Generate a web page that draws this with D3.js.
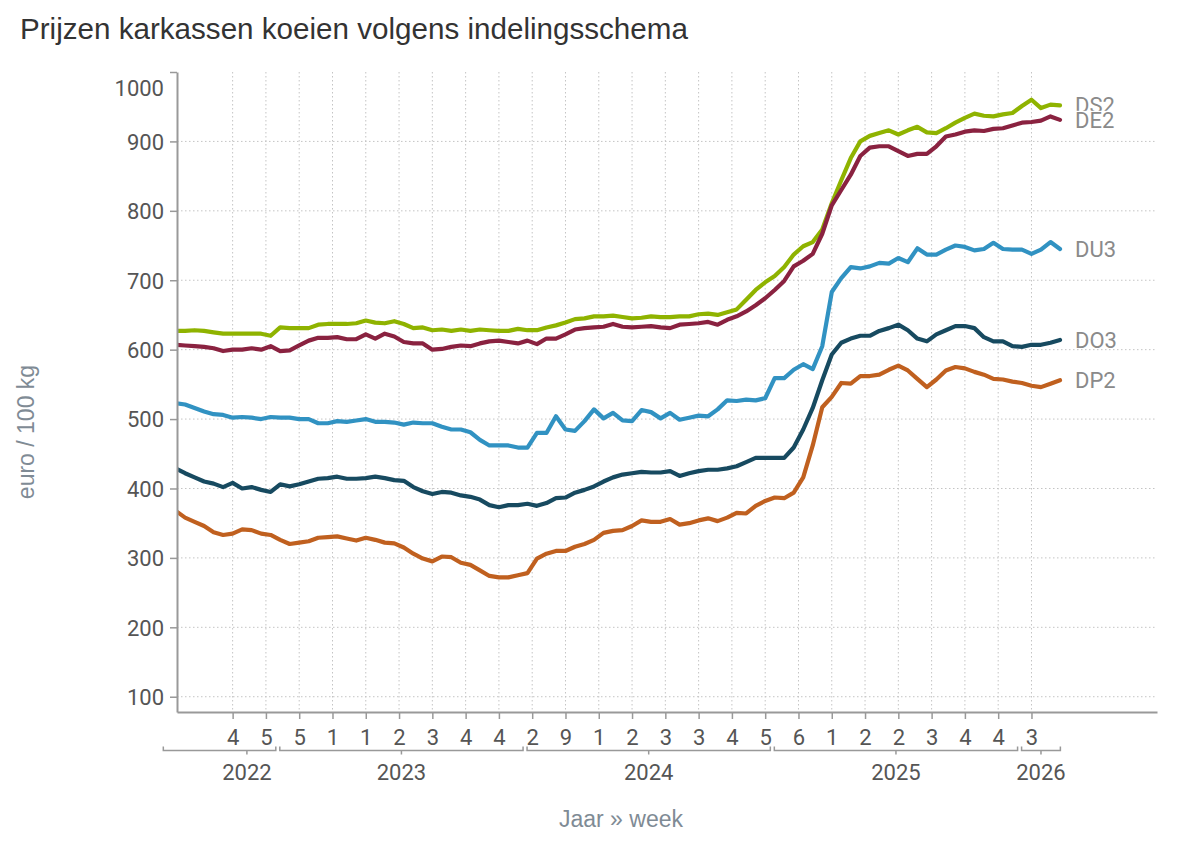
<!DOCTYPE html>
<html><head><meta charset="utf-8">
<script src="https://cdn.jsdelivr.net/npm/d3@7/dist/d3.min.js"></script>
<style>body{margin:0;background:#fff} svg{display:block}</style>
</head><body><svg id="chart" width="1200" height="855"></svg>
<script>
// ---- data (week index 0 = 2022 week 31, sampled every 2 weeks) ----
const weekIdx = d3.range(0, 188, 2);
const seriesNames = ["DS2", "DE2", "DU3", "DO3", "DP2"];
const seriesColors = ["#8fb300", "#8a2240", "#3192c2", "#174a60", "#c0601f"];

const DS2 = [627,627,628,627,625,623,623,623,623,623,620,632,631,631,631,636,637,637,637,638,642,639,638,641,
  637,631,632,628,629,627,629,627,629,628,627,627,630,628,628,632,635,639,644,645,648,648,649,
  647,645,646,648,647,647,648,648,651,652,650,654,658,672,686,697,706,719,737,749,755,773,811,
  844,876,900,908,912,916,910,916,921,913,912,919,927,934,940,937,936,939,941,951,960,948,953,952];
const DE2 = [607,606,605,604,602,598,600,600,602,600,605,598,599,606,613,617,617,618,615,615,622,616,623,619,
  611,609,609,600,601,604,606,605,609,612,613,611,609,613,608,616,616,622,629,631,632,633,637,
  633,632,633,634,632,631,636,637,638,640,636,643,648,655,664,674,686,699,720,728,738,767,808,
  830,852,879,891,893,893,886,879,882,882,893,907,910,914,916,915,918,919,923,927,928,930,936,931];
const DU3 = [523,521,516,511,507,506,502,503,502,500,503,502,502,500,500,494,494,497,496,498,500,496,496,495,
  492,495,494,494,489,485,485,481,470,462,462,462,459,459,480,480,504,485,483,497,514,501,509,
  498,497,513,510,501,509,499,502,505,504,514,527,526,528,527,530,559,559,571,579,572,605,683,
  703,719,717,720,725,724,732,726,746,737,737,744,750,748,743,745,754,745,744,744,738,744,755,745];
const DO3 = [429,422,416,410,407,402,408,400,402,398,395,406,403,406,410,414,415,417,414,414,415,417,415,412,
  411,402,396,392,395,394,390,388,384,376,373,376,376,378,375,379,386,387,394,398,403,410,416,
  420,422,424,423,423,425,418,422,425,427,427,429,432,438,444,444,444,444,459,485,516,556,593,
  610,616,620,620,627,631,636,628,616,612,622,628,634,634,631,618,612,612,605,604,607,607,610,614];
const DP2 = [368,358,352,346,337,333,335,341,340,335,333,326,320,322,324,329,330,331,328,325,329,326,322,321,
  315,306,299,295,302,301,293,290,282,274,272,272,275,278,299,306,310,310,316,320,326,336,339,
  340,346,354,352,352,356,348,350,354,357,353,358,365,364,375,382,387,386,394,416,462,517,532,
  552,551,562,562,564,571,577,570,558,546,557,570,575,573,568,564,558,557,554,552,548,546,551,556];
const seriesValues = [DS2, DE2, DU3, DO3, DP2];

const yTicks = [100, 200, 300, 400, 500, 600, 700, 800, 900, 1000];
const xTickWeeks = d3.range(12, 181, 7);
const xTickLabels = ["4","5","5","1","1","2","3","4","4","2","9","1","2","3","3","4","5","6","1","2","2","3","4","4","3"];
const years = ["2022", "2023", "2024", "2025", "2026"];
const yearStart = [-3, 21.5, 73.5, 125.5, 177.5];
const yearEnd = [21.5, 73.5, 125.5, 177.5, 186.5];
const yearLabelWeek = [15, null, null, null, null];

// ---- layout ----
const L = 177, R = 1157, T = 72, B = 712;
const svg = d3.select("#chart");
const x = d3.scaleLinear().domain([0.3, 206.4]).range([L, R]);
const y = d3.scaleLinear().domain([78, 1000]).range([B, T]);
const tickFont = "Roboto, 'Noto Sans', sans-serif";
const labelFont = "'Liberation Sans', Arial, sans-serif";

svg.append("text").attr("x", 20).attr("y", 39)
  .attr("font-family", labelFont).attr("font-size", 29.6).attr("fill", "#333")
  .text("Prijzen karkassen koeien volgens indelingsschema");

// gridlines
const grid = svg.append("g").attr("stroke", "#c4c4c4").attr("stroke-width", 1).attr("stroke-dasharray", "1.5,2.5");
grid.selectAll("line.h").data(yTicks.filter(v => v < 1000)).join("line")
  .attr("x1", L).attr("x2", R).attr("y1", d => y(d)).attr("y2", d => y(d));
grid.selectAll("line.v").data(xTickWeeks).join("line").attr("class", "v")
  .attr("x1", d => x(d)).attr("x2", d => x(d)).attr("y1", T).attr("y2", B);

// lines
svg.append("clipPath").attr("id", "clip").append("rect")
  .attr("x", L).attr("y", 0).attr("width", 1200 - L).attr("height", B);
const line = d3.line().x((d, i) => x(weekIdx[i])).y(d => y(d)).curve(d3.curveLinear);
const lg = svg.append("g").attr("clip-path", "url(#clip)");
seriesNames.forEach((name, s) => {
  lg.append("path").datum(seriesValues[s])
    .attr("fill", "none").attr("stroke", seriesColors[s]).attr("stroke-width", 4.2)
    .attr("stroke-linejoin", "round").attr("stroke-linecap", "round")
    .attr("d", line);
});

// series end labels
seriesNames.forEach((name, s) => {
  const vals = seriesValues[s];
  const g = svg.append("g");
  const t = g.append("text").attr("x", 1075).attr("y", y(vals[vals.length - 1]))
    .attr("dy", "0.36em").attr("font-family", tickFont).attr("font-size", 22)
    .attr("fill", "#8a8a8a").text(name);
  if (name === "DE2") {
    const bb = t.node().getBBox();
    g.insert("rect", "text").attr("x", bb.x - 1).attr("y", bb.y + 3).attr("width", bb.width + 2)
      .attr("height", bb.height - 3).attr("fill", "#fff");
  }
});

// y axis
const yAxis = svg.append("g").attr("transform", `translate(${L},0)`)
  .call(d3.axisLeft(y).tickValues(yTicks).tickFormat(d3.format("d")).tickSize(7).tickSizeOuter(0).tickPadding(6));
yAxis.select(".domain").attr("stroke", "#999").attr("stroke-width", 2);
yAxis.selectAll(".tick line").attr("stroke", "#999").attr("stroke-width", 1.5);
yAxis.selectAll(".tick text").attr("font-family", tickFont).attr("font-size", 22).attr("fill", "#555")
  .attr("dy", "0.36em")
  .attr("y", d => d === 1000 ? 16 : 0);

// x axis
const xAxis = svg.append("g").attr("transform", `translate(0,${B})`)
  .call(d3.axisBottom(x).tickValues(xTickWeeks).tickFormat((d, i) => xTickLabels[i])
    .tickSize(7).tickSizeOuter(0).tickPadding(10));
xAxis.select(".domain").attr("stroke", "#999").attr("stroke-width", 2);
xAxis.selectAll(".tick line").attr("stroke", "#999").attr("stroke-width", 1.5);
xAxis.selectAll(".tick text").attr("font-family", tickFont).attr("font-size", 22).attr("fill", "#555");

// year brackets
const yb = svg.append("g").attr("stroke", "#999").attr("stroke-width", 1.5).attr("fill", "none");
years.forEach((yr, i) => {
  const x1 = Math.max(x(yearStart[i]) + 2, 161), x2 = x(yearEnd[i]) - 2;
  const xc = yearLabelWeek[i] != null ? x(yearLabelWeek[i]) : (x1 + x2) / 2;
  yb.append("path").attr("d", `M${x1},746.5V750.5H${x2}V746.5M${xc},750.5V754.5`);
  svg.append("text").attr("x", xc).attr("y", 780).attr("text-anchor", "middle")
    .attr("font-family", tickFont).attr("font-size", 22).attr("fill", "#555").text(yr);
});

// axis titles
svg.append("text").attr("transform", "translate(34,432) rotate(-90)").attr("text-anchor", "middle")
  .attr("font-family", labelFont).attr("font-size", 23).attr("fill", "#7f8b95").text("euro / 100 kg");
svg.append("text").attr("x", 621).attr("y", 827).attr("text-anchor", "middle")
  .attr("font-family", labelFont).attr("font-size", 23).attr("fill", "#7f8b95").text("Jaar » week");
</script></body></html>
